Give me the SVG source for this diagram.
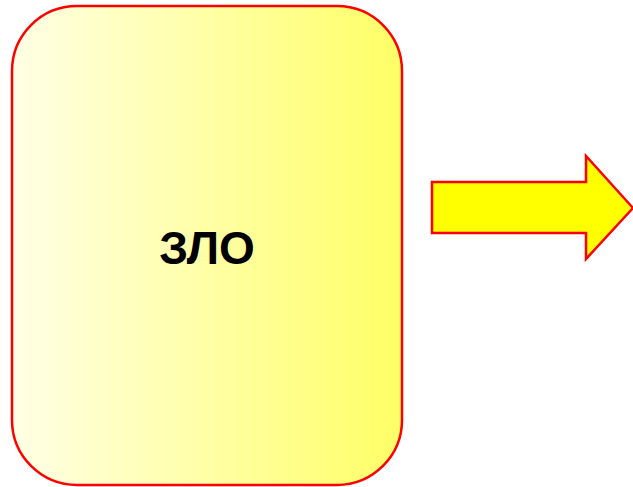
<svg xmlns="http://www.w3.org/2000/svg" width="633" height="487" viewBox="0 0 633 487">
<defs>
<linearGradient id="g" x1="0" y1="0" x2="1" y2="0">
<stop offset="0" stop-color="#FFFFE6"/>
<stop offset="1" stop-color="#FFFF66"/>
</linearGradient>
<style>
.box{fill:url(#g);stroke:#FF0000;stroke-width:2.5}
.arr{fill:#FFFF00;stroke:#FF0000;stroke-width:2.5;stroke-linejoin:miter}
.t{font-family:"Liberation Sans",Arial,sans-serif;font-weight:bold;font-size:46px;fill:#000;text-anchor:middle}
</style>
</defs>
<g id="node-zlo">
<rect class="box" x="12" y="6" width="390" height="479" rx="65" ry="65"/>
<text class="t" x="207" y="264">ЗЛО</text>
</g>
<g id="connectors">
<polygon class="arr" points="432,182 586,182 586,156 633,208 586,259 586,233 432,233"/>
</g>
</svg>
